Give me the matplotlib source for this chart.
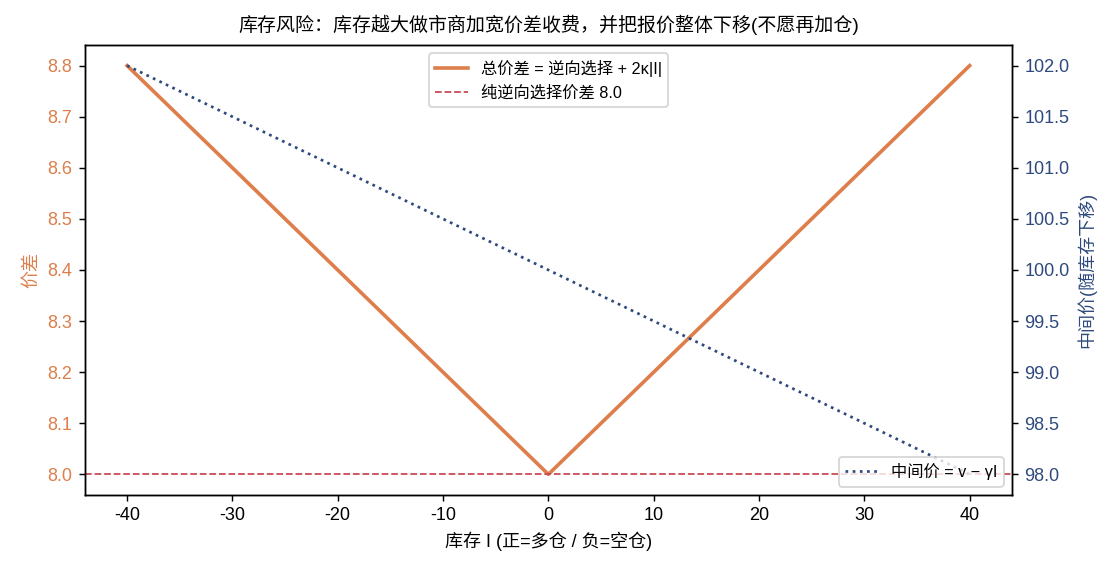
import matplotlib
matplotlib.use("Agg")
import matplotlib.pyplot as plt

plt.rcParams['font.family'] = ['Liberation Sans', 'Noto Sans CJK SC', 'DejaVu Sans']
plt.rcParams['axes.unicode_minus'] = False

# data
inventory = [-40, 0, 40]
spread = [8.8, 8.0, 8.8]          # adverse selection 8.0 + 2*kappa*|I|
base_spread = 8.0
mid_price = [102.0, 100.0, 98.0]  # v - gamma*I

c_orange = '#DD7E4B'
c_red = '#C94A55'
c_navy = '#2E4A7D'

fig = plt.figure(figsize=(8.6, 4.4), dpi=130)
ax1 = fig.add_axes([0.076, 0.135, 0.829, 0.786])
ax1.plot(inventory, spread, color=c_orange, lw=2, label='总价差 = 逆向选择 + 2κ|I|')
ax1.axhline(base_spread, color=c_red, lw=1, ls='--', label='纯逆向选择价差 8.0')
ax1.set_xlabel('库存 I (正=多仓 / 负=空仓)')
ax1.set_ylabel('价差', color=c_orange)
ax1.tick_params(axis='y', colors=c_orange, labelcolor=c_orange)
ax1.tick_params(axis='y', color='black')
ax1.set_title('库存风险：库存越大做市商加宽价差收费，并把报价整体下移(不愿再加仓)', fontsize=10.5, pad=8)
ax1.legend(loc='upper center', fontsize=9)

ax2 = ax1.twinx()
ax2.plot(inventory, mid_price, color=c_navy, lw=1.5, ls=':', label='中间价 = v − γI')
ax2.set_ylabel('中间价(随库存下移)', color=c_navy)
ax2.tick_params(axis='y', labelcolor=c_navy)
ax2.legend(loc='lower right', fontsize=9)

fig.savefig('out.png', dpi=130)
